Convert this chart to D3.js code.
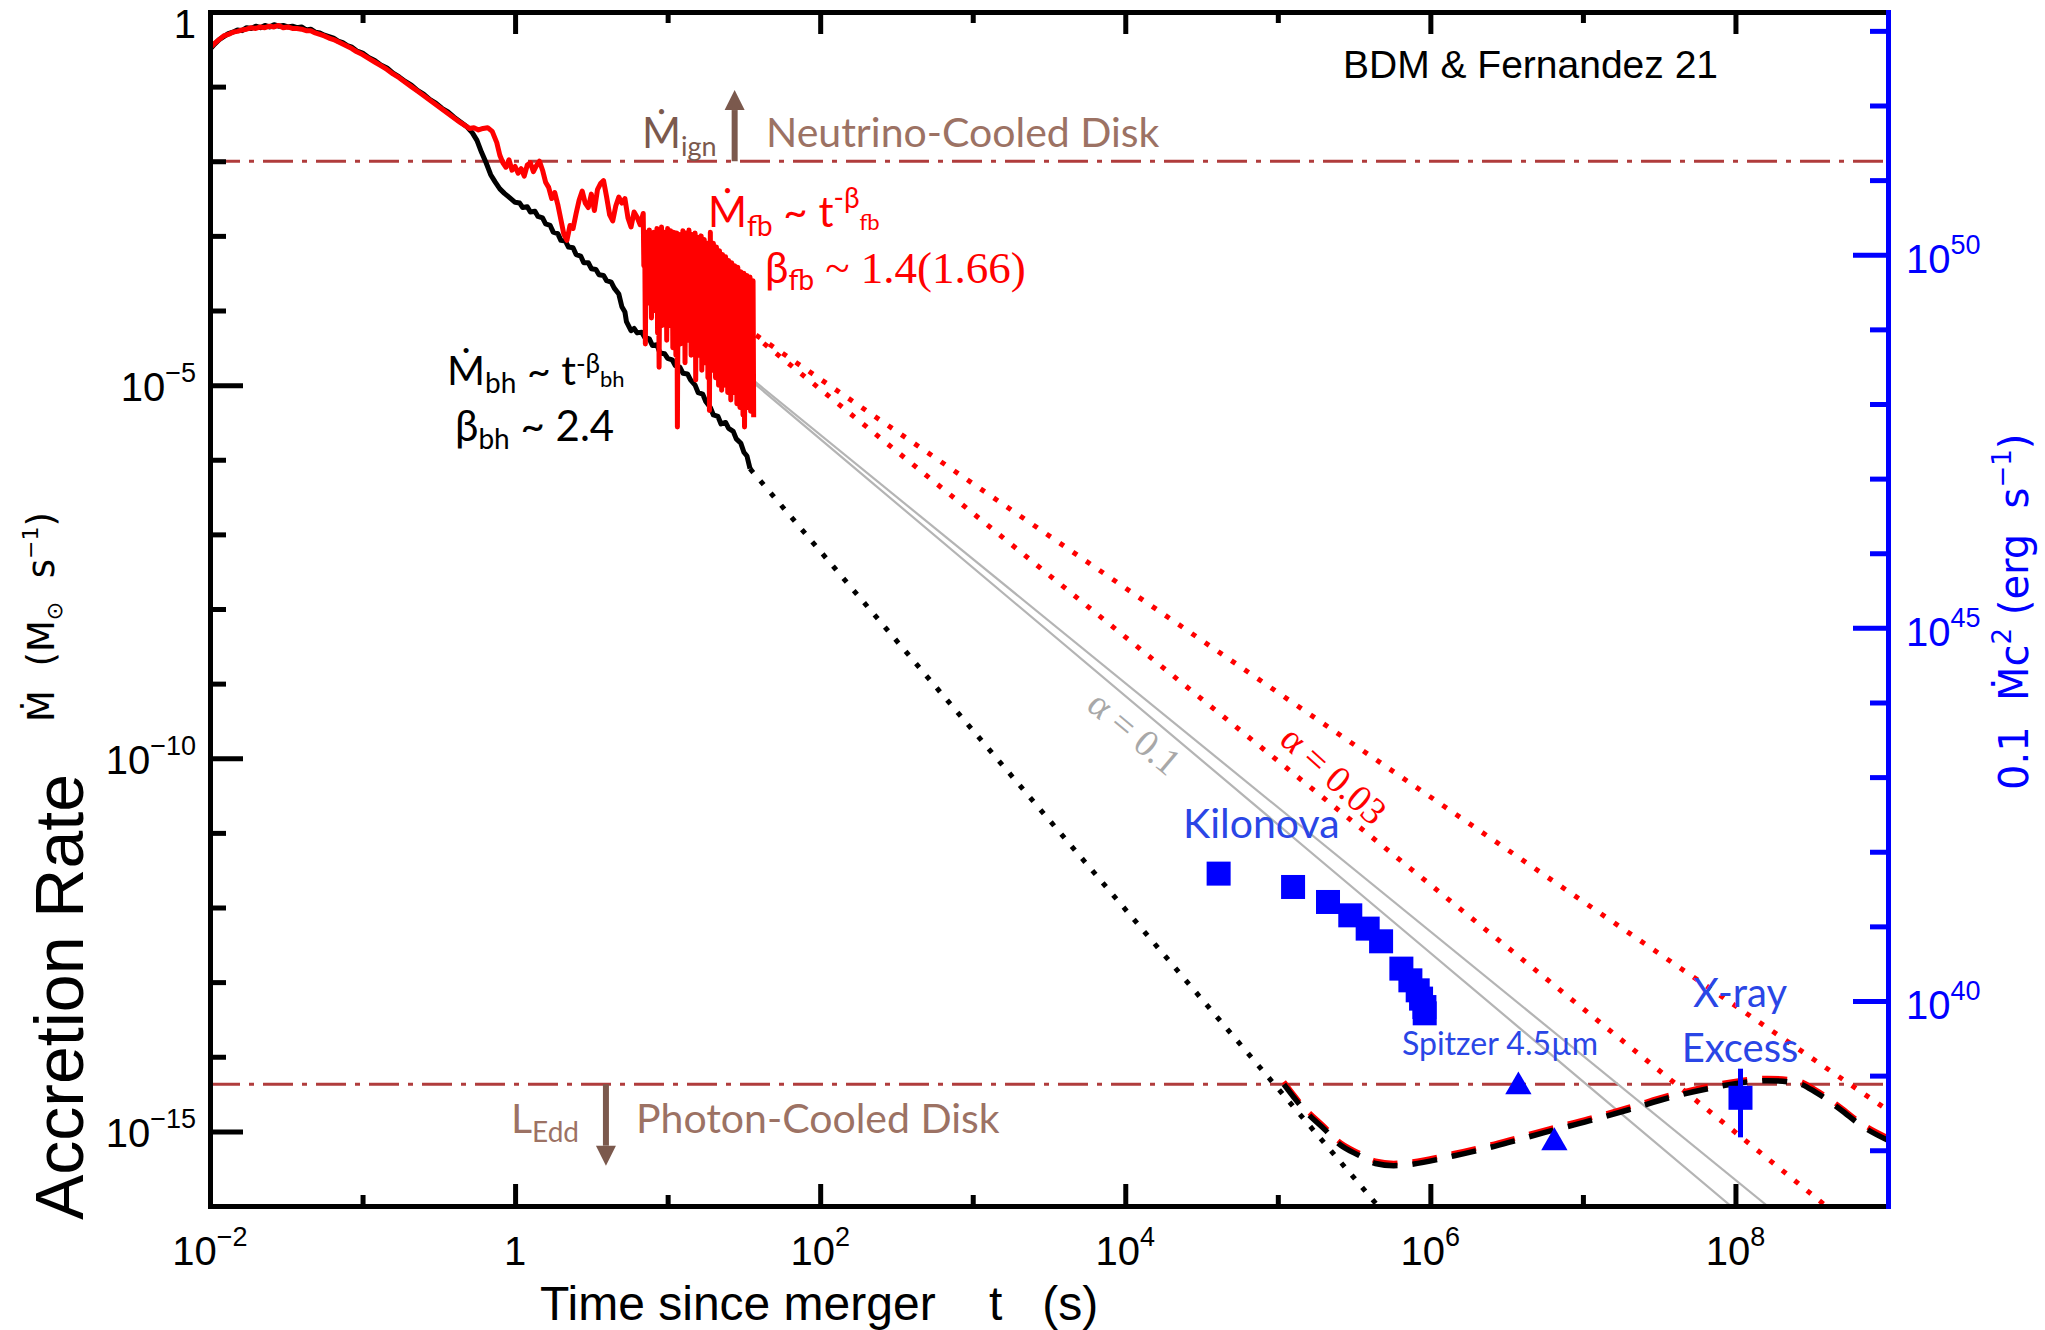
<!DOCTYPE html>
<html>
<head>
<meta charset="utf-8">
<title>Accretion rate since merger</title>
<script src="https://cdn.jsdelivr.net/npm/d3@7/dist/d3.min.js"></script>
<style>
  html, body { margin: 0; padding: 0; background: #fff; }
  svg { display: block; }
  text { white-space: pre; }
</style>
</head>
<body>
<svg id="chart" width="2045" height="1330"></svg>
<script>
// ---------------- data: pairs are [log10 t (s), log10 Mdot (Msun/s)] ----------------

// accretion onto the black hole (simulation)
const bhRateLog = [
  [-2.00,-0.50],[-1.97,-0.43],[-1.94,-0.37],[-1.91,-0.33],[-1.88,-0.29],[-1.85,-0.27],[-1.82,-0.24],
  [-1.79,-0.25],[-1.76,-0.21],[-1.73,-0.22],[-1.70,-0.19],[-1.67,-0.21],[-1.64,-0.18],[-1.61,-0.20],
  [-1.58,-0.17],[-1.55,-0.19],[-1.52,-0.18],[-1.49,-0.20],[-1.46,-0.19],[-1.43,-0.21],[-1.40,-0.20],
  [-1.37,-0.24],[-1.34,-0.23],[-1.31,-0.27],[-1.28,-0.28],[-1.25,-0.31],[-1.22,-0.33],[-1.19,-0.35],
  [-1.16,-0.39],[-1.13,-0.41],[-1.10,-0.45],[-1.07,-0.47],[-1.04,-0.52],[-1.00,-0.55],[-0.96,-0.61],
  [-0.92,-0.65],[-0.88,-0.71],[-0.84,-0.75],[-0.80,-0.82],[-0.76,-0.87],[-0.72,-0.93],[-0.68,-0.98],
  [-0.64,-1.05],[-0.60,-1.10],[-0.56,-1.17],[-0.52,-1.22],[-0.48,-1.29],[-0.44,-1.34],[-0.40,-1.41],
  [-0.36,-1.47],[-0.32,-1.53],[-0.28,-1.62],[-0.25,-1.72],[-0.22,-1.88],[-0.19,-2.02],[-0.16,-2.18],
  [-0.13,-2.28],[-0.10,-2.37],[-0.07,-2.43],[-0.04,-2.48],
  [0.00,-2.55],[0.03,-2.56],[0.05,-2.62],[0.08,-2.61],[0.10,-2.68],[0.13,-2.67],[0.15,-2.74],
  [0.18,-2.76],[0.20,-2.84],[0.23,-2.86],[0.25,-2.95],[0.28,-2.97],[0.30,-3.06],[0.33,-3.07],
  [0.35,-3.15],[0.38,-3.16],[0.40,-3.25],[0.43,-3.27],[0.45,-3.36],[0.48,-3.36],[0.50,-3.44],
  [0.53,-3.45],[0.55,-3.52],[0.58,-3.53],[0.60,-3.60],[0.63,-3.62],[0.65,-3.70],[0.68,-3.78],
  [0.70,-3.95],[0.72,-4.02],[0.73,-4.15],[0.76,-4.27],[0.78,-4.24],[0.80,-4.30],[0.83,-4.29],
  [0.85,-4.36],[0.88,-4.38],[0.90,-4.47],[0.93,-4.46],[0.95,-4.57],[0.98,-4.58],[1.00,-4.64],
  [1.03,-4.66],[1.05,-4.74],[1.08,-4.76],[1.10,-4.84],[1.13,-4.85],[1.15,-4.93],[1.18,-5.00],
  [1.20,-5.10],[1.23,-5.12],[1.25,-5.22],[1.28,-5.30],[1.30,-5.40],[1.33,-5.42],[1.35,-5.52],
  [1.38,-5.50],[1.40,-5.58],[1.43,-5.62],[1.45,-5.72],[1.48,-5.78],[1.50,-5.90],[1.52,-5.95],
  [1.54,-6.12]
];

// fallback rate (simulation), smooth-to-noisy part
const fbRateLog = [
  [-2.00,-0.48],[-1.97,-0.42],[-1.94,-0.37],[-1.91,-0.32],[-1.88,-0.30],[-1.85,-0.27],[-1.82,-0.26],
  [-1.79,-0.24],[-1.76,-0.23],[-1.73,-0.21],[-1.70,-0.22],[-1.67,-0.20],[-1.64,-0.21],[-1.61,-0.19],
  [-1.58,-0.20],[-1.55,-0.18],[-1.52,-0.21],[-1.49,-0.20],[-1.46,-0.22],[-1.43,-0.22],[-1.40,-0.23],
  [-1.37,-0.25],[-1.34,-0.25],[-1.31,-0.28],[-1.28,-0.30],[-1.25,-0.32],[-1.22,-0.35],[-1.19,-0.37],
  [-1.16,-0.40],[-1.13,-0.43],[-1.10,-0.46],[-1.07,-0.49],[-1.04,-0.53],[-1.00,-0.57],[-0.96,-0.62],
  [-0.92,-0.67],[-0.88,-0.72],[-0.84,-0.77],[-0.80,-0.83],[-0.76,-0.88],[-0.72,-0.94],[-0.68,-1.00],
  [-0.64,-1.06],[-0.60,-1.12],[-0.56,-1.18],[-0.52,-1.24],[-0.48,-1.30],[-0.44,-1.36],[-0.40,-1.42],
  [-0.36,-1.48],[-0.33,-1.52],[-0.30,-1.56],[-0.27,-1.55],[-0.24,-1.58],[-0.21,-1.56],[-0.18,-1.55],
  [-0.15,-1.60],[-0.12,-1.75],[-0.10,-1.92],[-0.08,-2.02],[-0.06,-2.08],[-0.04,-1.98],[-0.02,-2.12],
  [0.00,-2.07],[0.02,-2.16],[0.04,-2.10],[0.06,-2.20],[0.08,-2.05],[0.10,-2.02],[0.12,-2.14],
  [0.14,-2.06],[0.16,-2.00],[0.18,-2.12],[0.20,-2.28],[0.22,-2.35],[0.24,-2.50],[0.26,-2.42],
  [0.28,-2.58],[0.30,-2.78],[0.32,-2.98],[0.34,-3.06],[0.36,-2.86],[0.38,-2.90],[0.40,-2.70],
  [0.42,-2.52],[0.44,-2.40],[0.46,-2.56],[0.48,-2.62],[0.50,-2.44],[0.52,-2.66],[0.54,-2.38],
  [0.56,-2.30],[0.58,-2.26],[0.60,-2.48],[0.62,-2.72],[0.64,-2.80],[0.66,-2.60],[0.68,-2.48],
  [0.70,-2.56],[0.72,-2.50],[0.74,-2.76],[0.76,-2.88],[0.78,-2.68],[0.80,-2.75],[0.82,-2.85],
  [0.84,-2.70]
];

// fallback rate, strongly fluctuating late part: [log10 t, upper swing, lower swing]
const fbSwingLog = [
  [0.84,-2.70,-3.40],[0.85,-3.10,-4.45],[0.86,-2.95,-3.50],[0.87,-3.20,-3.90],[0.88,-2.92,-3.45],
  [0.89,-3.05,-4.10],[0.90,-3.25,-3.70],[0.91,-2.95,-4.00],[0.92,-3.10,-3.55],[0.93,-2.90,-4.30],
  [0.94,-3.15,-4.76],[0.95,-3.00,-3.60],[0.96,-2.88,-4.20],[0.97,-3.30,-3.75],[0.98,-2.95,-4.05],
  [0.99,-3.05,-4.40],[1.00,-2.90,-3.65],[1.01,-3.20,-4.20],[1.02,-2.93,-3.80],[1.03,-3.10,-4.50],
  [1.04,-2.95,-3.70],[1.05,-3.25,-4.60],[1.06,-2.96,-5.56],[1.07,-3.15,-4.10],[1.08,-2.98,-4.45],
  [1.09,-3.30,-3.85],[1.10,-2.93,-4.30],[1.11,-3.05,-4.70],[1.12,-2.96,-3.90],[1.13,-3.20,-4.40],
  [1.14,-2.92,-4.05],[1.15,-3.10,-4.60],[1.16,-2.98,-4.15],[1.17,-3.25,-4.50],[1.18,-2.96,-4.93],
  [1.19,-3.15,-4.10],[1.20,-3.02,-4.60],[1.21,-3.35,-4.25],[1.22,-3.00,-4.80],[1.23,-3.20,-4.35],
  [1.24,-3.05,-4.70],[1.25,-3.40,-4.40],[1.26,-3.10,-4.90],[1.27,-3.25,-5.34],[1.28,-2.95,-4.55],
  [1.29,-3.30,-4.80],[1.30,-3.10,-4.40],[1.31,-3.45,-4.90],[1.32,-3.15,-4.55],[1.33,-3.30,-5.00],
  [1.34,-3.20,-4.65],[1.35,-3.50,-5.07],[1.36,-3.25,-4.75],[1.37,-3.40,-5.00],[1.38,-3.28,-4.60],
  [1.39,-3.55,-5.10],[1.40,-3.33,-4.80],[1.41,-3.50,-5.20],[1.42,-3.36,-4.85],[1.43,-3.60,-5.10],
  [1.44,-3.40,-4.90],[1.45,-3.55,-5.25],[1.46,-3.42,-4.95],[1.47,-3.70,-5.30],[1.48,-3.48,-5.00],
  [1.49,-3.62,-5.40],[1.50,-3.50,-5.56],[1.51,-3.75,-5.05],[1.52,-3.53,-5.30],[1.53,-3.80,-4.95],
  [1.54,-3.55,-5.35],[1.55,-3.85,-5.10],[1.56,-3.60,-5.43]
];

// power-law continuations: Mdot ~ t^-beta from a starting point
const bhPowerLaw = { startLog: [1.54, -6.12], beta: 2.4 };
const fbPowerLaws = [
  { startLog: [1.58, -4.33], beta: 1.4 },
  { startLog: [1.63, -4.44], beta: 1.66 }
];

// viscous-disk curves for alpha = 0.1 (end points)
const alphaTenthLines = [
  [[1.00, -4.00], [7.97, -16.0]],
  [[1.00, -4.00], [8.21, -16.0]]
];

// late-time photon-cooled disk
const photonDiskLog = [
  [5.04,-14.37],[5.19,-14.75],[5.31,-14.98],[5.39,-15.15],[5.54,-15.33],[5.64,-15.43],[5.76,-15.46],
  [5.88,-15.44],[6.15,-15.33],[6.42,-15.20],[6.74,-15.02],[7.04,-14.86],[7.30,-14.71],[7.60,-14.53],
  [7.84,-14.42],[8.03,-14.35],[8.21,-14.32],[8.40,-14.35],[8.53,-14.48],[8.69,-14.71],[8.83,-14.93],
  [9.00,-15.12]
];

// observations expressed as equivalent rates
const kilonovaLog = [
  [4.612,-11.546],[5.100,-11.725],[5.329,-11.926],[5.475,-12.105],[5.589,-12.283],[5.677,-12.453],
  [5.810,-12.819],[5.869,-12.976],[5.917,-13.110],[5.939,-13.221],[5.961,-13.334],[5.963,-13.418]
];
const spitzerLog = [[6.577,-14.40],[6.813,-15.15]];
const xrayLog = [{ t: 8.033, m: -14.55, lo: -15.08, hi: -14.16 }];

// regime boundaries
const ignitionRate = 1e-2;        // Mdot_ign
const eddingtonRate = 4.27e-15;   // L_Edd expressed as a rate
const ignitionArrow = { t: 27.5, from: 1e-2, to: 9.0e-2 };
const eddingtonArrow = { t: 3.94, from: 4.27e-15, to: 3.47e-16 };

// axes
const xMajorTicks = [1e-2, 1, 1e2, 1e4, 1e6, 1e8];
const xMinorTicks = [1e-1, 1e1, 1e3, 1e5, 1e7];
const xTickLabels = [["10","−2"],["1",""],["10","2"],["10","4"],["10","6"],["10","8"]];
const yMajorTicks = [1, 1e-5, 1e-10, 1e-15];
const yMinorTicks = [1e-1,1e-2,1e-3,1e-4,1e-6,1e-7,1e-8,1e-9,1e-11,1e-12,1e-13,1e-14];
const yTickLabels = [["1",""],["10","−5"],["10","−10"],["10","−15"]];
const rMajorTicks = [1e40, 1e45, 1e50];
const rMinorTicks = [1e38,1e39,1e41,1e42,1e43,1e44,1e46,1e47,1e48,1e49,1e51,1e52,1e53];
const rTickLabels = [["10","40"],["10","45"],["10","50"]];
const LUM_PER_RATE = 1.79e53;     // 0.1 Msun c^2 in erg/s for 1 Msun/s

// ---------------- styling ----------------
const SANS = "'Liberation Sans', Arial, Helvetica, sans-serif";
const HUMAN = "Lato, 'Open Sans', 'Noto Sans', sans-serif";
const SERIF = "'Liberation Serif', 'Times New Roman', serif";
const WIDE = "'DejaVu Sans', Verdana, sans-serif";
const RED = "#ff0000", BLUE = "#0000ff", TXT_BLUE = "#2a46e6";
const BOUND = "#b03c3c", ARROW = "#7b594d", REGIME = "#9c7264", GRAY = "#b4b4b4";

const plot = { left: 210, right: 1888, top: 12, bottom: 1206 };
const x = d3.scaleLog().domain([1e-2, 1e9]).range([plot.left, plot.right]);
const y = d3.scaleLog().domain([1e-16, 1]).range([plot.bottom, plot.top]);
const yR = d3.scaleLog().domain([1e-16 * LUM_PER_RATE, LUM_PER_RATE]).range([plot.bottom, plot.top]);

const svg = d3.select("#chart");
svg.append("rect").attr("width", 2045).attr("height", 1330).attr("fill", "#fff");
svg.append("defs").append("clipPath").attr("id", "plotClip")
  .append("rect").attr("x", plot.left).attr("y", plot.top)
  .attr("width", plot.right - plot.left).attr("height", plot.bottom - plot.top);

const pw = ([lt, lm]) => [Math.pow(10, lt), Math.pow(10, lm)];
const path = d3.line().x(d => x(d[0])).y(d => y(d[1]));
const layer = svg.append("g").attr("clip-path", "url(#plotClip)");

// regime boundaries (dash-dot)
[ignitionRate, eddingtonRate].forEach(r => {
  layer.append("path").attr("d", path([[1e-2, r], [1e9, r]]))
    .attr("fill", "none").attr("stroke", BOUND).attr("stroke-width", 3)
    .attr("stroke-dasharray", "30 9 5 9");
});

// alpha = 0.1 disk curves
alphaTenthLines.forEach(seg => {
  layer.append("path").attr("d", path(seg.map(pw)))
    .attr("fill", "none").attr("stroke", GRAY).attr("stroke-width", 2.2);
});

// power-law continuations
function powerLaw(p, tEndLog) {
  const [t0, m0] = p.startLog;
  return [[t0, m0], [tEndLog, m0 - p.beta * (tEndLog - t0)]].map(pw);
}
fbPowerLaws.forEach(p => {
  layer.append("path").attr("d", path(powerLaw(p, 9.5)))
    .attr("fill", "none").attr("stroke", RED).attr("stroke-width", 5)
    .attr("stroke-dasharray", "5 11");
});
layer.append("path").attr("d", path(powerLaw(bhPowerLaw, 6.2)))
  .attr("fill", "none").attr("stroke", "#000").attr("stroke-width", 5)
  .attr("stroke-dasharray", "5 11");

// simulated rates
layer.append("path").attr("d", path(bhRateLog.map(pw)))
  .attr("fill", "none").attr("stroke", "#000").attr("stroke-width", 5)
  .attr("stroke-linejoin", "round");
const fbSwingPts = fbSwingLog.flatMap(([t, hi, lo]) => [[t, hi], [t + 0.004, lo]]);
layer.append("path").attr("d", path(fbRateLog.concat(fbSwingPts).map(pw)))
  .attr("fill", "none").attr("stroke", RED).attr("stroke-width", 5)
  .attr("stroke-linejoin", "round");

// photon-cooled disk: red dashes peeking above black dashes
const smooth = d3.line().x(d => x(d[0])).y(d => y(d[1])).curve(d3.curveMonotoneX);
layer.append("path").attr("d", smooth(photonDiskLog.map(pw)))
  .attr("transform", "translate(0,-2.5)")
  .attr("fill", "none").attr("stroke", RED).attr("stroke-width", 5)
  .attr("stroke-dasharray", "25 15");
layer.append("path").attr("d", smooth(photonDiskLog.map(pw)))
  .attr("fill", "none").attr("stroke", "#000").attr("stroke-width", 5.5)
  .attr("stroke-dasharray", "25 15");

// observations
layer.selectAll("rect.kn").data(kilonovaLog.map(pw)).join("rect").attr("class", "kn")
  .attr("x", d => x(d[0]) - 12).attr("y", d => y(d[1]) - 12)
  .attr("width", 24).attr("height", 24).attr("fill", BLUE);
layer.selectAll("path.sp").data(spitzerLog.map(pw)).join("path").attr("class", "sp")
  .attr("d", d3.symbol(d3.symbolTriangle).size(300))
  .attr("transform", d => `translate(${x(d[0])},${y(d[1])})`).attr("fill", BLUE);
xrayLog.forEach(d => {
  const t = Math.pow(10, d.t);
  layer.append("line").attr("x1", x(t)).attr("x2", x(t))
    .attr("y1", y(Math.pow(10, d.hi))).attr("y2", y(Math.pow(10, d.lo)))
    .attr("stroke", BLUE).attr("stroke-width", 5);
  layer.append("rect").attr("x", x(t) - 12).attr("y", y(Math.pow(10, d.m)) - 12)
    .attr("width", 24).attr("height", 24).attr("fill", BLUE);
});

// regime arrows
function arrow(a) {
  const ax = x(a.t), y0 = y(a.from), y1 = y(a.to);
  const dir = Math.sign(y1 - y0), head = 20;
  svg.append("line").attr("x1", ax).attr("x2", ax).attr("y1", y0).attr("y2", y1 - dir * head)
    .attr("stroke", ARROW).attr("stroke-width", 6);
  svg.append("path")
    .attr("d", `M${ax},${y1}L${ax - 10},${y1 - dir * head}L${ax + 10},${y1 - dir * head}Z`)
    .attr("fill", ARROW);
}
arrow(ignitionArrow);
arrow(eddingtonArrow);

// ---------------- text helpers ----------------
function rich(parent, x0, y0, parts, o = {}) {
  const t = parent.append("text").attr("x", x0).attr("y", y0)
    .attr("font-family", o.font || HUMAN).attr("font-size", o.size || 42)
    .attr("fill", o.fill || "#000").attr("text-anchor", o.anchor || "start");
  let cur = 0;
  parts.forEach(p => {
    const [s, q] = typeof p === "string" ? [p, {}] : p;
    const off = q.shift || 0;
    const ts = t.append("tspan").attr("dy", off - cur).text(s);
    if (q.size) ts.attr("font-size", q.size);
    if (q.font) ts.attr("font-family", q.font);
    cur = off;
  });
  return t;
}

// annotations
rich(svg, 1343, 78, ["BDM & Fernandez 21"], { font: SANS, size: 39 });
rich(svg, 642, 148, ["Ṁ", ["ign", { size: 27, shift: 8 }]], { fill: ARROW, size: 42 });
rich(svg, 766, 147, ["Neutrino-Cooled Disk"], { fill: REGIME, size: 41 });
rich(svg, 511, 1133, ["L", ["Edd", { size: 28, shift: 9 }]], { fill: REGIME, size: 41 });
rich(svg, 636, 1133, ["Photon-Cooled Disk"], { fill: REGIME, size: 41 });

rich(svg, 708, 227, ["Ṁ", ["fb", { size: 28, shift: 9 }], [" ~ t", { shift: 0 }],
  ["-β", { size: 28, shift: -19 }], ["fb", { size: 22, shift: 3 }]], { fill: RED, size: 42 });
rich(svg, 765, 283, ["β", ["fb", { size: 28, shift: 7 }],
  [" ~ 1.4(1.66)", { font: SERIF, size: 45, shift: 0 }]], { fill: RED, size: 42 });

rich(svg, 447, 385, ["Ṁ", ["bh", { size: 28, shift: 8 }], [" ~ t", { shift: 0 }],
  ["-β", { size: 26, shift: -12 }], ["bh", { size: 22, shift: 2 }]], { size: 41 });
rich(svg, 455, 441, ["β", ["bh", { size: 28, shift: 8 }], [" ~ 2.4", { shift: 0 }]], { size: 42 });

const ga = svg.append("g").attr("transform", "translate(1085,708) rotate(40)");
rich(ga, 0, 0, ["α = 0.1"], { font: SERIF, size: 38, fill: "#a8a8a8" });
const ra = svg.append("g").attr("transform", "translate(1278,742) rotate(42)");
rich(ra, 0, 0, ["α = 0.03"], { font: SERIF, size: 38, fill: RED });

rich(svg, 1183, 838, ["Kilonova"], { fill: TXT_BLUE, size: 41 });
rich(svg, 1402, 1055, ["Spitzer 4.5µm"], { fill: TXT_BLUE, size: 32 });
rich(svg, 1740, 1007, ["X-ray"], { fill: TXT_BLUE, size: 40, anchor: "middle" });
rich(svg, 1740, 1062, ["Excess"], { fill: TXT_BLUE, size: 40, anchor: "middle" });

// ---------------- axes ----------------
function axis(gen, values, size, tf, color) {
  const g = svg.append("g").attr("transform", tf)
    .call(gen.tickValues(values).tickSize(size).tickSizeOuter(0).tickFormat(""));
  g.select(".domain").attr("stroke", color).attr("stroke-width", 5).attr("stroke-linecap", "square");
  g.selectAll(".tick line").attr("stroke", color).attr("stroke-width", 5);
  g.selectAll(".tick text").remove();
  return g;
}
axis(d3.axisBottom(x), xMajorTicks, -22, `translate(0,${plot.bottom})`, "#000");
axis(d3.axisBottom(x), xMinorTicks, -11, `translate(0,${plot.bottom})`, "#000");
axis(d3.axisTop(x), xMajorTicks, -22, `translate(0,${plot.top})`, "#000");
axis(d3.axisTop(x), xMinorTicks, -11, `translate(0,${plot.top})`, "#000");
axis(d3.axisLeft(y), yMajorTicks, -33, `translate(${plot.left},0)`, "#000");
axis(d3.axisLeft(y), yMinorTicks, -16, `translate(${plot.left},0)`, "#000");
axis(d3.axisRight(yR), rMajorTicks, -35, `translate(${plot.right},0)`, BLUE);
axis(d3.axisRight(yR), rMinorTicks, -18, `translate(${plot.right},0)`, BLUE);

function tickLabel(px, py, [base, exp], anchor, color) {
  const t = svg.append("text").attr("x", px).attr("y", py).attr("text-anchor", anchor)
    .attr("font-family", SANS).attr("font-size", 40).attr("fill", color);
  t.append("tspan").text(base);
  if (exp) t.append("tspan").attr("dy", -19).attr("font-size", 27).text(exp);
}
xMajorTicks.forEach((v, i) => tickLabel(x(v), plot.bottom + 59, xTickLabels[i], "middle", "#000"));
yMajorTicks.forEach((v, i) => tickLabel(plot.left - 14, Math.max(y(v) + 16, plot.top + 26), yTickLabels[i], "end", "#000"));
rMajorTicks.forEach((v, i) => tickLabel(plot.right + 18, yR(v) + 18, rTickLabels[i], "start", BLUE));

// axis titles
svg.append("text").attr("transform", "translate(83,1220) rotate(-90)")
  .attr("font-family", SANS).attr("font-size", 68).text("Accretion Rate");
const yl = svg.append("g").attr("transform", "translate(54,722) rotate(-90)");
rich(yl, 0, 0, ["Ṁ  (M", ["⊙", { size: 22, shift: 8 }], ["  s", { shift: 0 }],
  ["−1", { size: 22, shift: -16 }], [")", { shift: 0 }]], { font: WIDE, size: 37 });
const rl = svg.append("g").attr("transform", "translate(2028,790) rotate(-90)");
rich(rl, 0, 0, ["0.1  Ṁc", ["2", { size: 26, shift: -17 }], [" (erg  s", { shift: 0 }],
  ["−1", { size: 26, shift: -17 }], [")", { shift: 0 }]], { font: WIDE, size: 40, fill: BLUE });
rich(svg, 540, 1320, ["Time since merger    t   (s)"], { font: SANS, size: 48 });
</script>
</body>
</html>
